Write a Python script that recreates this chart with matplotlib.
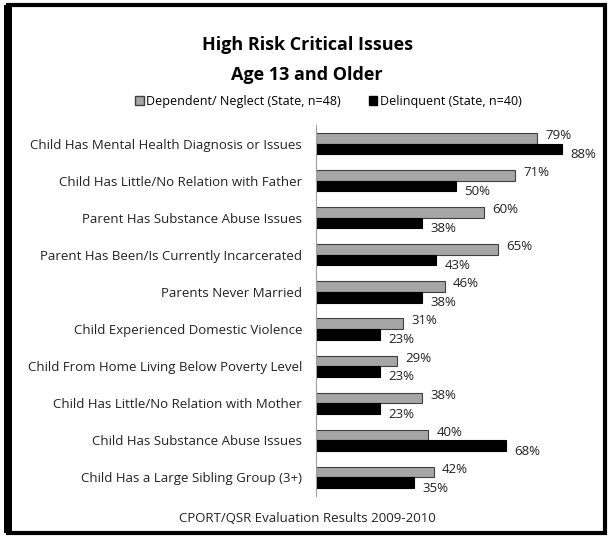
import numpy as np
import matplotlib.pyplot as plt
from matplotlib.patches import Patch, Rectangle

categories = [
    "Child Has Mental Health Diagnosis or Issues",
    "Child Has Little/No Relation with Father",
    "Parent Has Substance Abuse Issues",
    "Parent Has Been/Is Currently Incarcerated",
    "Parents Never Married",
    "Child Experienced Domestic Violence",
    "Child From Home Living Below Poverty Level",
    "Child Has Little/No Relation with Mother",
    "Child Has Substance Abuse Issues",
    "Child Has a Large Sibling Group (3+)",
]
dependent = [79, 71, 60, 65, 46, 31, 29, 38, 40, 42]
delinquent = [88, 50, 38, 43, 38, 23, 23, 23, 68, 35]
series_names = ["Dependent/ Neglect (State, n=48)", "Delinquent (State, n=40)"]

plt.rcParams['font.family'] = ['Open Sans', 'DejaVu Sans']

fig = plt.figure(figsize=(6.08, 5.36), dpi=100)
ax = fig.add_axes([316 / 608, 1 - 496 / 536, 280 / 608, 371 / 536])

y = np.arange(len(categories))
h = 0.285
gray = "#a6a6a6"
ax.barh(y - h / 2, dependent, height=h, color=gray, edgecolor="#404040", linewidth=0.8)
ax.barh(y + h / 2, delinquent, height=h, color="black", edgecolor="black", linewidth=0.8)

for i in range(len(categories)):
    ax.annotate(f"{dependent[i]}%", (dependent[i], y[i] - h / 2), xytext=(6, 2),
                textcoords="offset points", va="center", ha="left", fontsize=9.5, color="#222222")
    ax.annotate(f"{delinquent[i]}%", (delinquent[i], y[i] + h / 2), xytext=(6, -4),
                textcoords="offset points", va="center", ha="left", fontsize=9.5, color="#222222")

ax.set_xlim(0, 100)
ax.set_ylim(len(categories) - 0.5, -0.5)
ax.set_yticks(y)
ax.set_yticklabels(categories, fontsize=9.5, color="#222222")
ax.tick_params(axis="y", length=0, pad=10)
ax.set_xticks([])
for s in ["top", "right", "bottom"]:
    ax.spines[s].set_visible(False)
ax.spines["left"].set_color("#a0a0a0")

fig.text(0.505, 1 - 45 / 536, "High Risk Critical Issues", ha="center", va="center",
         fontsize=13, fontweight="bold")
fig.text(0.505, 1 - 75 / 536, "Age 13 and Older", ha="center", va="center",
         fontsize=13, fontweight="bold")

handles = [Patch(facecolor=gray, edgecolor="#404040"), Patch(facecolor="black", edgecolor="black")]
fig.legend(handles, series_names, loc="center", bbox_to_anchor=(0.54, 1 - 101 / 536), ncol=2,
           frameon=False, fontsize=9, handlelength=0.7, handleheight=0.7,
           handletextpad=0.2, columnspacing=2.2)

fig.text(0.505, 1 - 519 / 536, "CPORT/QSR Evaluation Results 2009-2010", ha="center",
         va="center", fontsize=9.5, color="#222222")

# outer frame
fig.patches.append(Rectangle((8 / 608, 3 / 536), 597 / 608, 528 / 536, transform=fig.transFigure,
                             fill=False, edgecolor="black", linewidth=3))
fig.patches.append(Rectangle((4 / 608, 3 / 536), 8 / 608, 528 / 536, transform=fig.transFigure,
                             facecolor="black", edgecolor="none"))

fig.savefig("out.png", dpi=100)
